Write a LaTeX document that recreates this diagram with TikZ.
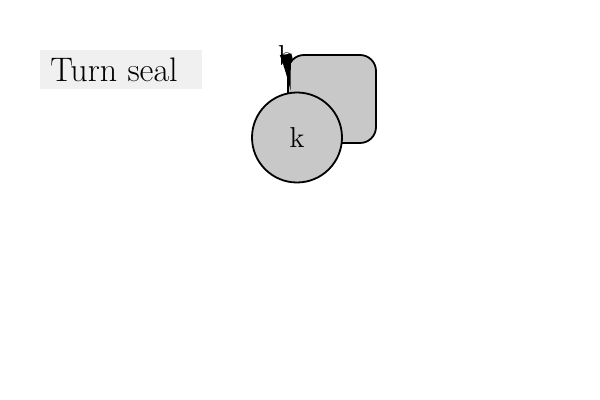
\documentclass[tikz,border=0pt]{standalone}
\usetikzlibrary{arrows.meta}
\definecolor{shapegray}{HTML}{C8C8C8}
\definecolor{labelgray}{HTML}{F0F0F0}
\tikzset{
  shapebox/.style={draw=black, line width=0.9pt, fill=shapegray, rounded corners=8pt, minimum width=44pt, minimum height=44pt, inner sep=0pt},
  roundnode/.style={circle, draw=black, line width=0.9pt, fill=shapegray, minimum size=45pt, inner sep=0pt, font=\Large},
  titlebox/.style={fill=labelgray, minimum width=81pt, minimum height=19.5pt, inner sep=0pt},
  titletext/.style={anchor=west, inner sep=0pt, font=\fontsize{17}{20}\selectfont},
  conn/.style={line width=0.9pt, -{Latex[length=19pt,width=6pt]}}
}
\begin{document}
\begin{tikzpicture}[x=0.5pt,y=-0.5pt]
\useasboundingbox (0,0) rectangle (600,400);
\node[titlebox] (title) at (121,69.5) {};
\node[titletext] (titlet) at (50,70) {Turn seal};
\node[shapebox] (box) at (332,99) {};
\node[roundnode] (k) at (297,137.5) {k};
\node[inner sep=0pt, font=\Large] (b) at (286,56) {b};
\draw[conn] (b.center) -- (k);
\end{tikzpicture}
\end{document}
